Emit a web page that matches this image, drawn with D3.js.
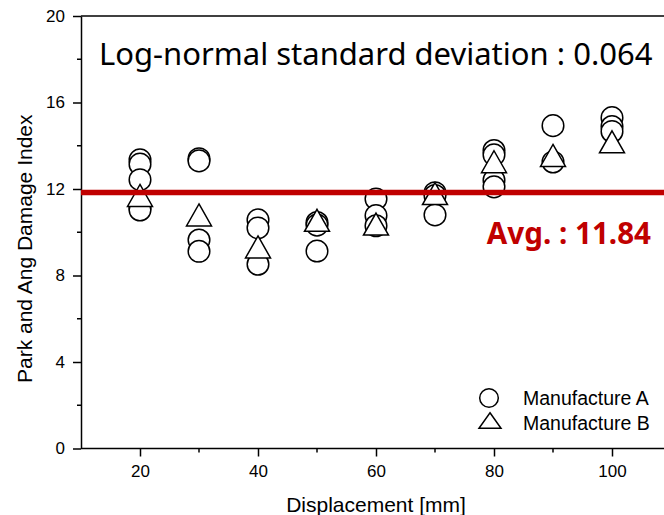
<!DOCTYPE html>
<html>
<head>
<meta charset="utf-8">
<script src="https://cdn.jsdelivr.net/npm/d3@7"></script>
<style>
  html, body { margin: 0; padding: 0; background: #fff; }
  svg { display: block; }
</style>
</head>
<body>
<div id="chart"></div>
<script>
// Damage index measured at each displacement level
const displacements = [20, 30, 40, 50, 60, 70, 80, 90, 100];
const manufactureA = [
  [13.35, 13.15, 12.43, 11.15, 11.03],
  [13.4, 13.3, 9.64, 9.12],
  [10.57, 10.2, 8.52],
  [10.45, 10.33, 9.13],
  [11.54, 10.77, 10.3],
  [11.83, 11.7, 10.8],
  [13.78, 13.58, 12.41, 12.1],
  [14.93, 13.25],
  [15.3, 14.89, 14.66]
];
const manufactureB = [11.7, 10.8, 9.32, 10.55, 10.38, 11.79, 13.26, 13.55, 14.18];
const averageIndex = 11.84;
const logNormalStd = 0.064;
const xTicks = [20, 40, 60, 80, 100];
const xMinorTicks = [30, 50, 70, 90];
const yTicks = [0, 4, 8, 12, 16, 20];
const yMinorTicks = [2, 6, 10, 14, 18];
const seriesNames = ["Manufacture A", "Manufacture B"];

const W = 664, H = 515;
const plotLeft = 81, plotTop = 16, plotBottom = 448.5;

const svg = d3.select("#chart").append("svg")
  .attr("width", W).attr("height", H);

const x = d3.scaleLinear().domain([10, 110]).range([plotLeft, 671]);
const y = d3.scaleLinear().domain([0, 20]).range([plotBottom, plotTop]);

const font = "'Liberation Sans', Arial, sans-serif";

// frame top edge
svg.append("line")
  .attr("x1", plotLeft).attr("x2", W).attr("y1", y(20)).attr("y2", y(20))
  .attr("stroke", "#000").attr("stroke-width", 1.5);

// x axis
const xAxis = svg.append("g").attr("transform", `translate(0,${plotBottom})`)
  .call(d3.axisBottom(x).tickValues(xTicks).tickSize(8).tickSizeOuter(0).tickPadding(8));
xAxis.append("g").selectAll("line").data(xMinorTicks).join("line")
  .attr("x1", d => x(d)).attr("x2", d => x(d)).attr("y1", 0).attr("y2", 4)
  .attr("stroke", "#000").attr("stroke-width", 1.5);

// y axis
const yAxis = svg.append("g").attr("transform", `translate(${plotLeft},0)`)
  .call(d3.axisLeft(y).tickValues(yTicks).tickSize(8).tickSizeOuter(0).tickPadding(8));
yAxis.append("g").selectAll("line").data(yMinorTicks).join("line")
  .attr("x1", 0).attr("x2", -4).attr("y1", d => y(d)).attr("y2", d => y(d))
  .attr("stroke", "#000").attr("stroke-width", 1.5);

[xAxis, yAxis].forEach(g => {
  g.select(".domain").attr("stroke-width", 1.5);
  g.selectAll(".tick line").attr("stroke-width", 1.5);
  g.selectAll(".tick text").attr("font-family", font).attr("font-size", 17).attr("fill", "#000");
});
// the bottom axis line runs on past the last tick
xAxis.select(".domain").attr("d", `M${plotLeft},0H${W}`);

// axis titles
svg.append("text")
  .attr("x", x(60)).attr("y", 512)
  .attr("text-anchor", "middle")
  .attr("font-family", font).attr("font-size", 21)
  .text("Displacement [mm]");
svg.append("text")
  .attr("transform", "translate(32,383) rotate(-90)")
  .attr("text-anchor", "start")
  .attr("font-family", font).attr("font-size", 21)
  .text("Park and Ang Damage Index");

// markers
const triPath = (w, h) => `M0,${-h / 2}L${w / 2},${h / 2}L${-w / 2},${h / 2}Z`;

const circlePts = [];
displacements.forEach((d, i) => manufactureA[i].forEach(v => circlePts.push({ d, v })));

svg.append("g").selectAll("circle").data(circlePts).join("circle")
  .attr("cx", p => x(p.d)).attr("cy", p => y(p.v)).attr("r", 10.8)
  .attr("fill", "#fff").attr("stroke", "#000").attr("stroke-width", 1.5);

svg.append("g").selectAll("path").data(manufactureB).join("path")
  .attr("transform", (v, i) => `translate(${x(displacements[i])},${y(v)})`)
  .attr("d", triPath(25, 22))
  .attr("fill", "#fff").attr("stroke", "#000").attr("stroke-width", 1.5);

// average line
svg.append("line")
  .attr("x1", plotLeft).attr("x2", W)
  .attr("y1", y(averageIndex)).attr("y2", y(averageIndex))
  .attr("stroke", "#c00000").attr("stroke-width", 5.5);

const noteFont = "'Noto Sans', 'Open Sans', sans-serif";
svg.append("text")
  .attr("x", 99).attr("y", 65)
  .attr("font-family", noteFont).attr("font-size", 31)
  .text(`Log-normal standard deviation : ${logNormalStd.toFixed(3)}`);

svg.append("text")
  .attr("x", 651).attr("y", 244)
  .attr("text-anchor", "end")
  .attr("font-family", noteFont).attr("font-size", 29.6).attr("font-weight", "bold")
  .attr("fill", "#c00000")
  .text(`Avg. : ${averageIndex.toFixed(2)}`);

// legend
const legend = svg.append("g");
legend.append("circle").attr("cx", 489).attr("cy", 398).attr("r", 9.3)
  .attr("fill", "#fff").attr("stroke", "#000").attr("stroke-width", 1.5);
legend.append("path").attr("transform", "translate(490,420.5)").attr("d", triPath(22, 15.5))
  .attr("fill", "#fff").attr("stroke", "#000").attr("stroke-width", 1.5);
legend.selectAll("text").data(seriesNames).join("text")
  .attr("x", 523).attr("y", (d, i) => 405 + i * 24.5)
  .attr("font-family", font).attr("font-size", 19.5)
  .text(d => d);
</script>
</body>
</html>
